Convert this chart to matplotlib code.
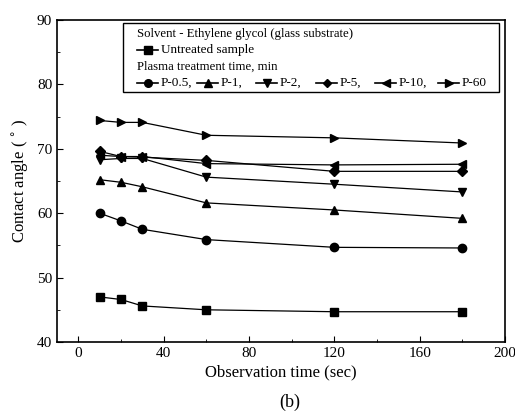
import matplotlib
matplotlib.use("Agg")
import matplotlib.pyplot as plt
from matplotlib.ticker import MultipleLocator

plt.rcParams['font.family'] = ['Liberation Serif', 'DejaVu Serif']

time_sec = [10, 20, 30, 60, 120, 180]
untreated = [47.0, 46.6, 45.6, 45.0, 44.7, 44.7]
p05 = [60.0, 58.8, 57.5, 55.9, 54.7, 54.6]
p1 = [65.2, 64.8, 64.1, 61.6, 60.5, 59.2]
p2 = [68.3, 68.5, 68.5, 65.6, 64.5, 63.3]
p5 = [69.6, 68.8, 68.7, 68.2, 66.5, 66.5]
p10 = [69.0, 68.8, 68.8, 67.7, 67.5, 67.6]
p60 = [74.4, 74.1, 74.1, 72.1, 71.7, 70.9]

series = [
    ("Untreated sample", untreated, "s"),
    ("P-0.5,", p05, "o"),
    ("P-1,", p1, "^"),
    ("P-2,", p2, "v"),
    ("P-5,", p5, "D"),
    ("P-10,", p10, "<"),
    ("P-60", p60, ">"),
]

W, H = 515, 417
fig = plt.figure(figsize=(W / 100, H / 100), dpi=100)
ax = fig.add_axes([57 / W, 1 - 342 / H, (505 - 57) / W, (342 - 20) / H])

for name, vals, m in series:
    ms = 6 if m != "D" else 5
    ax.plot(time_sec, vals, color='black', lw=0.9, marker=m, ms=ms)

ax.set_xlim(-10, 200)
ax.set_ylim(40, 90)
ax.xaxis.set_major_locator(MultipleLocator(40))
ax.xaxis.set_minor_locator(MultipleLocator(20))
ax.yaxis.set_major_locator(MultipleLocator(10))
ax.yaxis.set_minor_locator(MultipleLocator(5))
ax.tick_params(which='both', direction='in', labelsize=11)
ax.tick_params(which='major', length=4)
ax.tick_params(which='minor', length=2.5)
for s in ax.spines.values():
    s.set_linewidth(1.2)
ax.set_xlabel('Observation time (sec)', fontsize=12, labelpad=3)
ax.set_ylabel('Contact angle ( $^{\\circ}$ )', fontsize=12, labelpad=4)
fig.text(290 / W, 1 - 402 / H, '(b)', fontsize=13, ha='center', va='center')


# hand-drawn legend box, positions in pixels from top-left
def fx(x):
    return x / W


def fy(y):
    return 1 - y / H


box = plt.Rectangle((fx(123), fy(92)), fx(499) - fx(123), fy(23) - fy(92),
                    transform=fig.transFigure, fill=False, lw=1.0, ec='black')
fig.add_artist(box)
fs = 9.5
fig.text(fx(137), fy(34), 'Solvent - Ethylene glycol (glass substrate)', fontsize=9.2, va='center')
fig.text(fx(137), fy(67), 'Plasma treatment time, min', fontsize=9.2, va='center')


def handle(x0, y, m, name):
    ms = 5.5 if m != "D" else 4.5
    fig.add_artist(plt.Line2D([fx(x0), fx(x0 + 21)], [fy(y), fy(y)], transform=fig.transFigure,
                              color='black', lw=1.2))
    fig.add_artist(plt.Line2D([fx(x0 + 10.5)], [fy(y)], transform=fig.transFigure,
                              color='black', marker=m, ms=ms, lw=0))
    fig.text(fx(x0 + 24), fy(y), name, fontsize=fs, va='center')


handle(137, 50, series[0][2], series[0][0])
row_x = [137, 197, 256, 316, 375, 438]
for x0, (name, vals, m) in zip(row_x, series[1:]):
    handle(x0, 83, m, name)

fig.savefig('out.png', dpi=100)
